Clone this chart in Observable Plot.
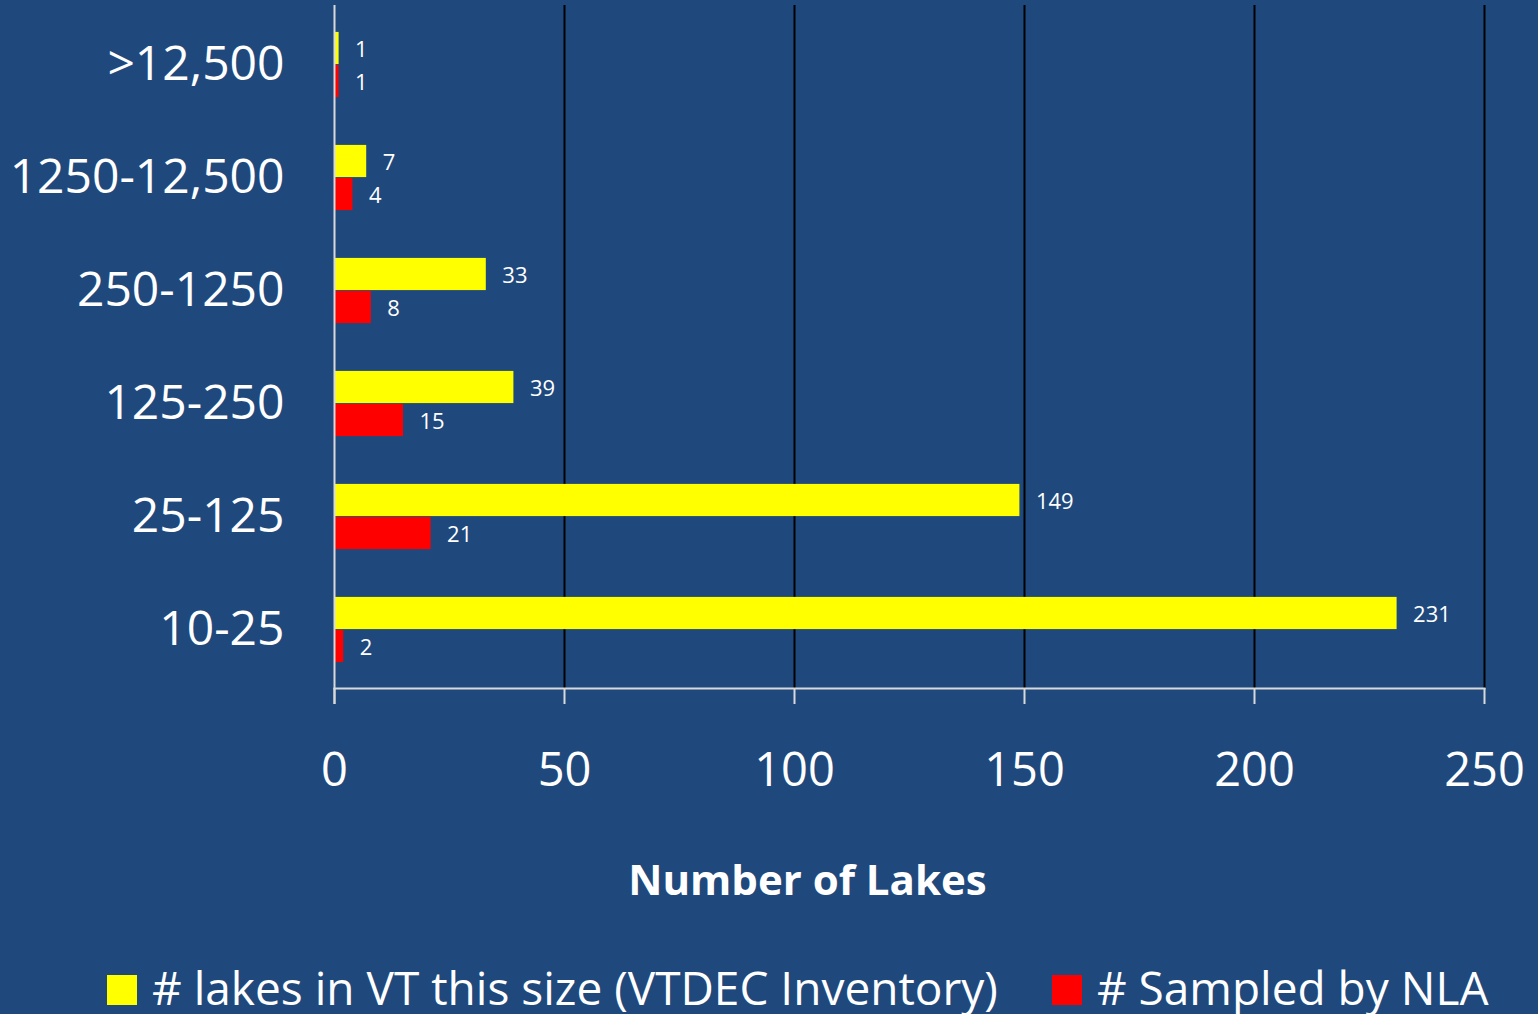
<!DOCTYPE html>
<html>
<head>
<meta charset="utf-8">
<script src="https://cdn.jsdelivr.net/npm/d3@7"></script>
<script src="https://cdn.jsdelivr.net/npm/@observablehq/plot@0.6"></script>
<style>
  html, body { margin: 0; padding: 0; background: #1F497D; width: 1538px; height: 1014px; overflow: hidden; }
  #chart svg { display: block; }
  .legend { display: flex; align-items: center; padding-left: 107px; padding-top: 20px; height: 54px; font-family: "Open Sans", sans-serif; font-size: 46px; line-height: 1; color: #fff; }
  .legend .sw { width: 30px; height: 30px; margin-right: 15px; margin-top: 6px; }
  .legend .item { display: flex; align-items: center; margin-right: 54px; white-space: nowrap; }
</style>
</head>
<body>
<div id="chart"></div>
<script>
const categories = [">12,500", "1250-12,500", "250-1250", "125-250", "25-125", "10-25"];
const lakesInVT = [1, 7, 33, 39, 149, 231];
const sampledByNLA = [1, 4, 8, 15, 21, 2];
const xTicks = [0, 50, 100, 150, 200, 250];
const seriesNames = ["# lakes in VT this size (VTDEC Inventory)", "# Sampled by NLA"];
const seriesColors = ["#FFFF00", "#FF0000"];

const rows = categories.map((c, i) => ({size: c, lakes: lakesInVT[i], sampled: sampledByNLA[i]}));

const W = 1538, H = 940, mT = 5, mB = 252, mL = 334, mR = 54;
const step = (H - mT - mB) / categories.length;
const gap = step * 0.21;
const half = step / 2;

const chart = Plot.plot({
  width: W, height: H,
  marginLeft: mL, marginRight: mR, marginTop: mT, marginBottom: mB,
  style: {background: "transparent", color: "#fff", fontFamily: "'Open Sans', sans-serif"},
  x: {domain: [0, 250]},
  y: {domain: categories, padding: 0},
  marks: [
    Plot.gridX(xTicks.slice(1), {stroke: "#000", strokeOpacity: 1, strokeWidth: 2}),
    Plot.barX(rows, {x: "lakes", y: "size", fill: seriesColors[0], insetTop: gap, insetBottom: half}),
    Plot.barX(rows, {x: "sampled", y: "size", fill: seriesColors[1], insetTop: half, insetBottom: gap}),
    Plot.text(rows, {x: "lakes", y: "size", text: d => String(d.lakes), dy: -(half - gap) / 2 + 1.5, dx: 16, textAnchor: "start", fill: "#fff", fontSize: 22}),
    Plot.text(rows, {x: "sampled", y: "size", text: d => String(d.sampled), dy: (half - gap) / 2 + 1.5, dx: 16, textAnchor: "start", fill: "#fff", fontSize: 22}),
    Plot.ruleX([0], {stroke: "#D9D9D9", strokeWidth: 2, insetBottom: -16}),
    Plot.frame({anchor: "bottom", stroke: "#D9D9D9", strokeWidth: 2}),
    Plot.axisY({tickSize: 0, tickPadding: 50, fontSize: 48, label: null}),
    Plot.axisX(xTicks, {tickSize: 16, tickPadding: 48, stroke: "#D9D9D9", strokeWidth: 2, fontSize: 47, label: null}),
    Plot.text(["Number of Lakes"], {frameAnchor: "bottom", dy: 206, dx: -102, fontWeight: "bold", fontSize: 42, fill: "#fff"})
  ]
});
document.getElementById("chart").appendChild(chart);

const legend = document.createElement("div");
legend.className = "legend";
seriesNames.forEach((name, i) => {
  const item = document.createElement("div");
  item.className = "item";
  const sw = document.createElement("span");
  sw.className = "sw";
  sw.style.background = seriesColors[i];
  const t = document.createElement("span");
  t.textContent = name;
  item.appendChild(sw);
  item.appendChild(t);
  legend.appendChild(item);
});
document.body.appendChild(legend);
</script>
</body>
</html>
